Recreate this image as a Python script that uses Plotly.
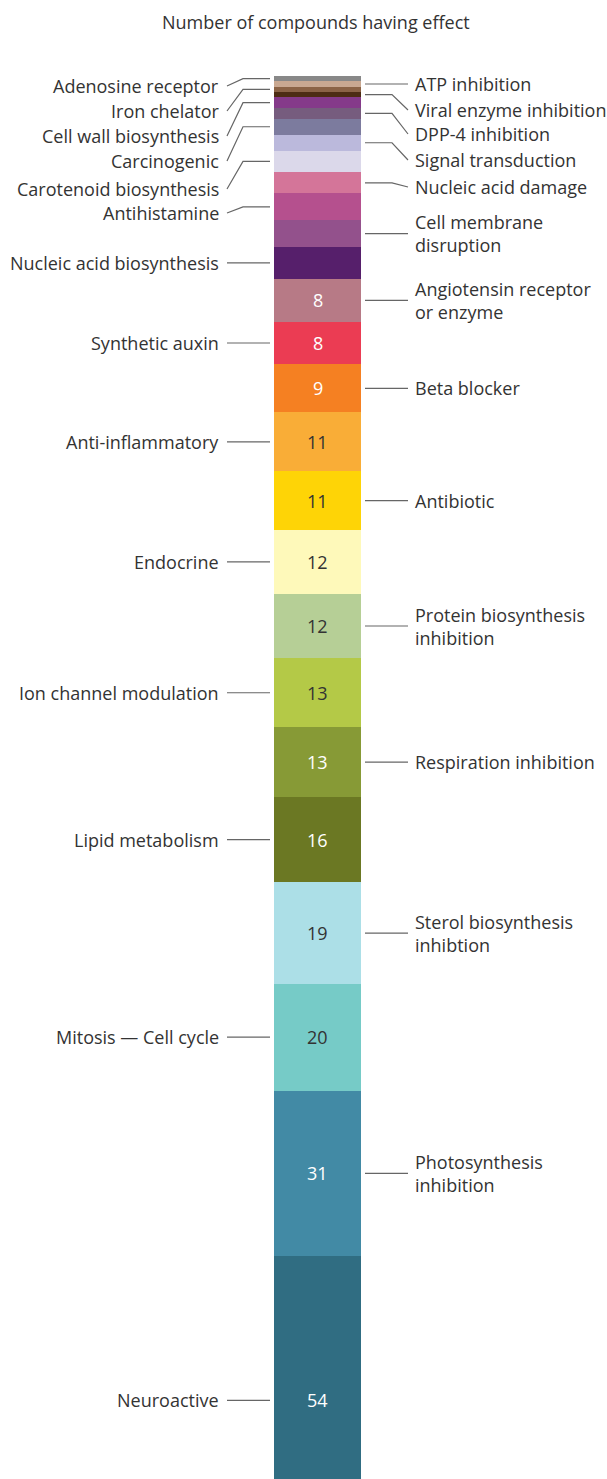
import plotly.graph_objects as go

# ---------------- data (top of bar to bottom) ----------------
categories = [
    "Adenosine receptor", "ATP inhibition", "Iron chelator", "Viral enzyme inhibition",
    "Cell wall biosynthesis", "DPP-4 inhibition", "Carcinogenic", "Signal transduction",
    "Carotenoid biosynthesis", "Nucleic acid damage", "Antihistamine",
    "Cell membrane disruption", "Nucleic acid biosynthesis",
    "Angiotensin receptor or enzyme", "Synthetic auxin", "Beta blocker",
    "Anti-inflammatory", "Antibiotic", "Endocrine", "Protein biosynthesis inhibition",
    "Ion channel modulation", "Respiration inhibition", "Lipid metabolism",
    "Sterol biosynthesis inhibtion", "Mitosis — Cell cycle",
    "Photosynthesis inhibition", "Neuroactive",
]
values = [1, 1, 1, 1, 2, 2, 3, 3, 4, 4, 5, 5, 6, 8, 8, 9, 11, 11, 12, 12, 13, 13, 16, 19, 20, 31, 54]
label_text = [
    "Adenosine receptor", "ATP inhibition", "Iron chelator", "Viral enzyme inhibition",
    "Cell wall biosynthesis", "DPP-4 inhibition", "Carcinogenic", "Signal transduction",
    "Carotenoid biosynthesis", "Nucleic acid damage", "Antihistamine",
    "Cell membrane<br>disruption", "Nucleic acid biosynthesis",
    "Angiotensin receptor<br>or enzyme", "Synthetic auxin", "Beta blocker",
    "Anti-inflammatory", "Antibiotic", "Endocrine", "Protein biosynthesis<br>inhibition",
    "Ion channel modulation", "Respiration inhibition", "Lipid metabolism",
    "Sterol biosynthesis<br>inhibtion", "Mitosis — Cell cycle",
    "Photosynthesis<br>inhibition", "Neuroactive",
]
title_text = "Number of compounds having effect"

# ---------------- styling ----------------
colors = [
    "#888888", "#c9a891", "#8b6346", "#4d2c13", "#853a8a", "#765c7e", "#7c7b9e",
    "#bbb9dc", "#dbd8ea", "#d47599", "#b5508e", "#93518c", "#561f6b", "#b77a86",
    "#eb3c53", "#f58022", "#f9ad37", "#fed406", "#fef9ba", "#b6cf96", "#b4c947",
    "#879a36", "#6b7823", "#acdfe7", "#76cbc7", "#428aa5", "#306d82",
]
num_colors = {
    "Angiotensin receptor or enzyme": "#ffffff", "Synthetic auxin": "#ffffff",
    "Beta blocker": "#ffffff", "Respiration inhibition": "#ffffff",
    "Lipid metabolism": "#ffffff", "Photosynthesis inhibition": "#ffffff",
    "Neuroactive": "#ffffff",
}

# label vertical positions (page pixels) for crowded top labels
label_px = {
    "Adenosine receptor": 86, "Iron chelator": 111, "Cell wall biosynthesis": 136,
    "Carcinogenic": 161, "Carotenoid biosynthesis": 189, "Antihistamine": 213,
    "Viral enzyme inhibition": 110, "DPP-4 inhibition": 134,
    "Signal transduction": 160, "Nucleic acid damage": 187,
}

W, H = 607, 1479
TOP = 76
PPU = 5.34
FONT = "Open Sans"
TXT = "#333333"
LINE = "#666666"
FS = 18
bar_x, bar_w = 317.5, 87

total = sum(values)
plot_h = H - TOP


def py2y(py):
    return total - (py - TOP) / PPU


fig = go.Figure()

# stacked bar: bottom category first
for i in reversed(range(len(categories))):
    fig.add_trace(go.Bar(
        x=[bar_x], y=[values[i]], width=bar_w, name=categories[i],
        marker=dict(color=colors[i], line=dict(width=0)),
        hoverinfo="name+y", showlegend=False,
    ))

annotations = []
lx, ly = {"L": [], "R": []}, {"L": [], "R": []}
cum = 0
for i, (cat, v) in enumerate(zip(categories, values)):
    top = total - cum
    center = top - v / 2
    cum += v
    side = "L" if i % 2 == 0 else "R"
    lab_y = py2y(label_px[cat]) if cat in label_px else center
    if side == "L":
        xs = [bar_x - bar_w / 2 - 4, 243, 227]
        ax, anchor = 221, "right"
    else:
        xs = [bar_x + bar_w / 2 + 4, 392, 408]
        ax, anchor = 413, "left"
    annotations.append(dict(x=ax, y=lab_y, text=label_text[i], xanchor=anchor,
                            yanchor="middle", align=anchor, showarrow=False,
                            font=dict(family=FONT, size=FS, color=TXT)))
    lx[side] += xs + [None]
    ly[side] += [center, center, lab_y, None]
    if v >= 8:
        annotations.append(dict(x=bar_x, y=center, text=str(v), showarrow=False,
                                xanchor="center", yanchor="middle",
                                font=dict(family=FONT, size=FS,
                                          color=num_colors.get(cat, TXT))))

for side in ("L", "R"):
    fig.add_trace(go.Scatter(x=lx[side], y=ly[side], mode="lines",
                             line=dict(color=LINE, width=1.2),
                             hoverinfo="skip", showlegend=False))

annotations.append(dict(x=316, xref="x", y=1 + (TOP - 22) / plot_h, yref="paper",
                        text=title_text, showarrow=False, xanchor="center",
                        yanchor="middle", font=dict(family=FONT, size=FS, color=TXT)))

fig.update_layout(
    width=W, height=H, barmode="stack",
    margin=dict(l=0, r=0, t=TOP, b=0, pad=0),
    paper_bgcolor="white", plot_bgcolor="white",
    xaxis=dict(range=[0, W], visible=False, fixedrange=True),
    yaxis=dict(range=[total - plot_h / PPU, total], visible=False, fixedrange=True),
    annotations=annotations,
    font=dict(family=FONT, color=TXT),
)

fig.write_html(
    "out.html",
    config={"displayModeBar": False},
    post_script="document.body.style.margin='0';document.body.style.overflow='hidden';",
)
